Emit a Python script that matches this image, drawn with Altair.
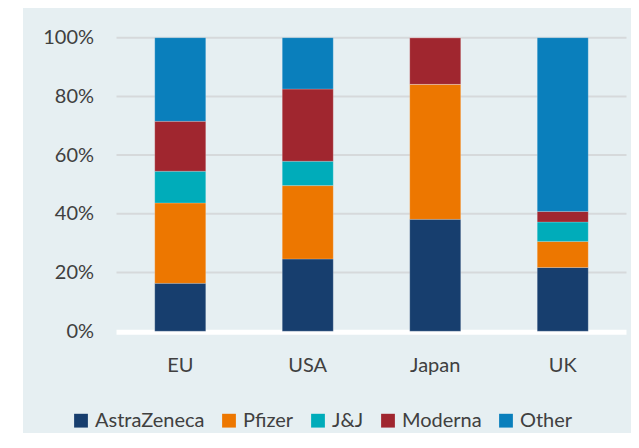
import altair as alt
import pandas as pd

regions = ["EU", "USA", "Japan", "UK"]
vaccines = ["AstraZeneca", "Pfizer", "J&J", "Moderna", "Other"]
astrazeneca = [16.3, 24.6, 38.1, 21.7]
pfizer = [27.4, 25.0, 46.0, 8.9]
jj = [10.8, 8.3, 0.0, 6.6]
moderna = [17.0, 24.6, 15.9, 3.6]
other = [28.5, 17.5, 0.0, 59.2]
colors = ["#173E6E", "#ED7700", "#00ACBA", "#A0262F", "#0A7FBC"]
y_ticks = [0, 20, 40, 60, 80, 100]

series = [astrazeneca, pfizer, jj, moderna, other]
rows = []
for k, (name, vals) in enumerate(zip(vaccines, series)):
    for r, v in zip(regions, vals):
        rows.append({"region": r, "vaccine": name, "share": v, "order": k})
df = pd.DataFrame(rows)

W, H = 510, 293.5
FONT = "Lato"
TXT = "#404040"

y_scale = alt.Scale(domain=[0, 100], nice=False)
y_axis = alt.Axis(values=y_ticks, labelExpr="datum.value + '%'", grid=False,
                  domain=False, ticks=False, labelPadding=23,
                  labelFont=FONT, labelFontSize=20, labelColor=TXT, zindex=1)

bg = alt.Chart(pd.DataFrame({"a": [0]})).mark_rect(color="#E6EFF2").encode(
    x=alt.value(-93.5), x2=alt.value(W + 20), y=alt.value(-29.7), y2=alt.value(H + 140)
)

grid = alt.Chart(pd.DataFrame({"t": y_ticks[1:]})).mark_rule(
    color="#D6D9DB", strokeWidth=2
).encode(y=alt.Y("t:Q", scale=y_scale, axis=y_axis, title=None))

base = alt.Chart(pd.DataFrame({"t": [0]})).mark_rule(
    color="white", strokeWidth=5
).encode(y=alt.Y("t:Q", scale=y_scale, axis=y_axis, title=None), yOffset=alt.value(1))

bars = alt.Chart(df).mark_bar(stroke="#FFFFFF", strokeOpacity=0.25, strokeWidth=0.8).encode(
    x=alt.X("region:N", sort=regions, title=None,
            scale=alt.Scale(paddingInner=0.6, paddingOuter=0.3),
            axis=alt.Axis(labelAngle=0, domain=False, ticks=False, labelPadding=24,
                          labelFont=FONT, labelFontSize=20, labelColor=TXT, zindex=1)),
    y=alt.Y("share:Q", stack="zero", title=None, scale=y_scale, axis=y_axis),
    color=alt.Color("vaccine:N", sort=vaccines,
                    scale=alt.Scale(domain=vaccines, range=colors),
                    legend=alt.Legend(orient="none", legendX=-45.5, legendY=373,
                                      direction="horizontal", columns=5, title=None,
                                      symbolType="square", symbolSize=190,
                                      symbolStrokeWidth=0, labelOffset=4,
                                      columnPadding=14, padding=0,
                                      labelFont=FONT, labelFontSize=20, labelColor=TXT)),
    order=alt.Order("order:Q", sort="ascending"),
)

chart = alt.layer(bg, grid, base, bars).properties(
    width=W, height=H,
    autosize=alt.AutoSizeParams(type="none"),
    padding={"left": 108.5, "top": 29.7, "right": 4.5, "bottom": 102},
).configure(background="white").configure_view(stroke=None)

chart.save("out.html", embed_options={"renderer": "svg", "actions": False})
